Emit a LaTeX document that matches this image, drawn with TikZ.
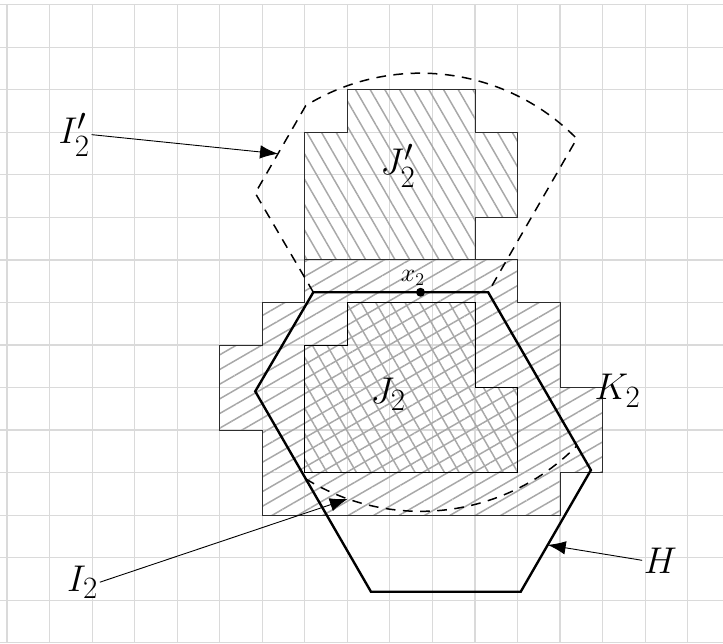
\documentclass[tikz,border=0pt]{standalone}
\usepackage{amsmath}
\usepackage{tikz}
\usetikzlibrary{arrows.meta,patterns.meta,calc}
\definecolor{gridgray}{RGB}{218,218,218}
\definecolor{hatchgray}{RGB}{168,168,168}
\definecolor{edgegray}{RGB}{45,45,45}

\begin{document}
\begin{tikzpicture}[
  hatchK/.style={pattern={Lines[angle=30,distance=8.5pt,line width=1pt]},pattern color=hatchgray},
  hatchJ/.style={pattern={Lines[angle=-60,distance=8.5pt,line width=1pt]},pattern color=hatchgray},
  region/.style={draw=edgegray,line width=0.6pt},
  ball/.style={line width=1pt,dash pattern=on 6.5pt off 5pt},
  pointer/.style={-{Latex[length=12pt,width=9pt]},line width=0.6pt},
  biglabel/.style={font=\Huge,inner sep=1pt,anchor=base}
]
\useasboundingbox (-0.165,-0.007) rectangle (16.83,15.11);
\draw[gridgray,line width=0.8pt] (-0.165,0) grid (16.83,15);

\draw[region,hatchK] (6,3) -- (13,3) -- (13,4) -- (14,4) -- (14,6) -- (13,6) -- (13,8) -- (12,8)
  -- (12,9) -- (7,9) -- (7,8) -- (6,8) -- (6,7) -- (5,7) -- (5,5) -- (6,5) -- cycle;
\draw[hatchJ,draw=black,line width=0.5pt] (7,4) -- (12,4) -- (12,6) -- (11,6)
  -- (11,8) -- (8,8) -- (8,7) -- (7,7) -- cycle;
\draw[region,hatchJ] (7,9) -- (11,9) -- (11,10) -- (12,10) -- (12,12) -- (11,12) -- (11,13)
  -- (8,13) -- (8,12) -- (7,12) -- cycle;

\coordinate (A) at (7.2,8.24);
\coordinate (B) at (11.31,8.24);
\coordinate (C) at (13.725,4.06);
\coordinate (D) at (12.075,1.2);
\coordinate (E) at (8.555,1.2);
\coordinate (F) at (5.835,5.91);
\coordinate (Fm) at (5.835,10.57);
\draw[line width=1.6pt] (A) -- (B) -- (C) -- (D) -- (E) -- (F) -- cycle;

\node[circle,fill,inner sep=0pt,minimum size=6pt] (x2) at (9.72,8.24) {};
\coordinate (Q) at ($(x2)+(121.6:5.15)$);
\draw[ball] (A) -- (Fm) -- (Q) arc[start angle=121.6,end angle=44.5,radius=5.15] -- (B);
\draw[ball] ($(x2)+(238.4:5.15)$) arc[start angle=238.4,end angle=315.5,radius=5.15];

\node[font=\LARGE,anchor=base] (lx2) at (9.54,8.5) {$x_2$};
\node[biglabel] (lJ2p) at (9.19,11.0) {$J_2'$};
\node[biglabel] (lJ2) at (8.96,5.62) {$J_2$};
\node[biglabel] (lK2) at (14.35,5.71) {$K_2$};
\node[biglabel] (lI2p) at (1.58,11.73) {$I_2'$};
\node[biglabel] (lI2) at (1.775,1.21) {$I_2$};
\node[biglabel] (lH) at (15.36,1.64) {$H$};

\draw[pointer] (lI2p.east) -- ($(Fm)!0.45!(Q)$);
\draw[pointer] (lI2.east) -- ($(x2)+(250.6:5.15)$);
\draw[pointer] (lH.west) -- ($(C)!0.615!(D)$);
\end{tikzpicture}
\end{document}
